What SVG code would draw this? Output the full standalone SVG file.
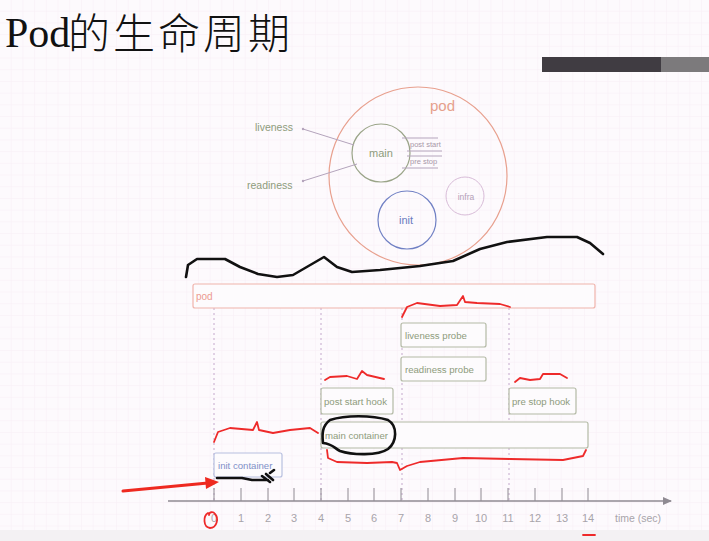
<svg xmlns="http://www.w3.org/2000/svg" width="709" height="541" viewBox="0 0 709 541">
<defs>
<pattern id="grid" width="11.7" height="11.7" patternUnits="userSpaceOnUse">
<path d="M11.7 0V11.7H0" fill="none" stroke="#f8eef6" stroke-width="1"/>
</pattern>
<marker id="axhead" markerWidth="9" markerHeight="8" refX="8" refY="4" orient="auto" markerUnits="userSpaceOnUse">
<path d="M0 0L9 4L0 8z" fill="#8f8a92"/>
</marker>
</defs>
<style>
.t{font-family:"Liberation Sans",Arial,sans-serif;}
.g{fill:#8e9c7c;font-size:10.5px;}
.bl{fill:#8e9c7c;font-size:9.6px;}
.box{fill:#fdfbfd;stroke:#b4baa6;stroke-width:1.2;}
.dot{stroke:#c4a8cc;stroke-width:1;stroke-dasharray:2 3;}
.ink{fill:none;stroke:#111;stroke-width:2.6;stroke-linecap:round;stroke-linejoin:round;}
.red{fill:none;stroke:#ee2a2a;stroke-width:1.8;stroke-linecap:round;stroke-linejoin:round;}
.num{fill:#a8a4aa;font-size:11px;text-anchor:middle;}
</style>
<rect width="709" height="541" fill="#fdfafd"/>
<rect width="709" height="541" fill="url(#grid)"/>
<rect x="0" y="530" width="709" height="11" fill="#f3f1f3"/>

<g id="title">
<text x="5" y="47" font-size="42" fill="#111" font-family="Liberation Serif,serif">Pod</text>
<text x="68" y="49" font-size="42" letter-spacing="3" fill="#111" font-family="Noto Sans CJK SC,sans-serif" font-weight="300">的生命周期</text>
</g>
<g id="progress-bar">
<rect x="542" y="57" width="119" height="15" fill="#403c42"/>
<rect x="661" y="57" width="48" height="15" fill="#7c7a7c"/>
</g>

<g id="pod-circle">
<circle cx="418" cy="176" r="89" fill="none" stroke="#e8a08e" stroke-width="1.2"/>
<text class="t" x="430" y="111" font-size="15" fill="#e6a08c">pod</text>
</g>
<g id="main-circle">
<circle cx="381" cy="153" r="29" fill="none" stroke="#9aa488" stroke-width="1.2"/>
<text class="t" x="381" y="157" font-size="11" fill="#8e9c7c" text-anchor="middle">main</text>
<g stroke="#b4a4bc" stroke-width="1">
<line x1="402" y1="138" x2="438" y2="138"/>
<line x1="407" y1="151" x2="442" y2="151"/>
<line x1="407" y1="156" x2="442" y2="156"/>
<line x1="402" y1="168" x2="438" y2="168"/>
</g>
<text class="t" x="410" y="147" font-size="7.5" fill="#a898a8">post start</text>
<text class="t" x="410" y="164" font-size="7.5" fill="#a898a8">pre stop</text>
</g>
<g id="liveness-label">
<text class="t g" x="255" y="131">liveness</text>
<line x1="303" y1="129" x2="354" y2="145" stroke="#b4a4bc" stroke-width="1"/>
<circle cx="303" cy="129" r="1.2" fill="#b4a4bc"/>
</g>
<g id="readiness-label">
<text class="t g" x="247" y="189">readiness</text>
<line x1="303" y1="181" x2="357" y2="164" stroke="#b4a4bc" stroke-width="1"/>
<circle cx="303" cy="181" r="1.2" fill="#b4a4bc"/>
</g>
<g id="init-circle">
<circle cx="407" cy="220" r="29" fill="none" stroke="#7080c4" stroke-width="1.2"/>
<text class="t" x="406" y="224" font-size="11" fill="#6a7cc0" text-anchor="middle">init</text>
</g>
<g id="infra-circle">
<circle cx="465" cy="196" r="19" fill="none" stroke="#d8bcd8" stroke-width="1"/>
<text class="t" x="466" y="200" font-size="8.5" fill="#b4a0b8" text-anchor="middle">infra</text>
</g>

<g id="guides">
<line class="dot" x1="214" y1="308" x2="214" y2="500"/>
<line class="dot" x1="321" y1="308" x2="321" y2="500"/>
<line class="dot" x1="402" y1="308" x2="402" y2="500"/>
<line class="dot" x1="509" y1="308" x2="509" y2="500"/>
</g>

<g id="pod-bar">
<rect x="193" y="284" width="402" height="24" rx="2" fill="#fdfbfd" stroke="#f0b4ac" stroke-width="1.2"/>
<text class="t" x="196" y="300" font-size="10" fill="#ec9a90">pod</text>
</g>
<g id="liveness-probe">
<rect class="box" x="401" y="323" width="85" height="24" rx="2"/>
<text class="t bl" x="405" y="339">liveness probe</text>
</g>
<g id="readiness-probe">
<rect class="box" x="401" y="357" width="85" height="24" rx="2"/>
<text class="t bl" x="405" y="373">readiness probe</text>
</g>
<g id="post-start-hook">
<rect class="box" x="321" y="388" width="72" height="26" rx="2"/>
<text class="t bl" x="324" y="405">post start hook</text>
</g>
<g id="pre-stop-hook">
<rect class="box" x="509" y="388" width="67" height="26" rx="2"/>
<text class="t bl" x="512" y="405">pre stop hook</text>
</g>
<g id="main-container">
<rect class="box" x="321" y="422" width="267" height="26" rx="2"/>
<text class="t bl" x="325" y="439">main container</text>
</g>
<g id="init-container">
<rect x="214" y="453" width="68" height="24" rx="2" fill="#fdfbfd" stroke="#b8c0e0" stroke-width="1.2"/>
<text class="t" x="218" y="469" font-size="9.6" fill="#8090c8">init container</text>
</g>

<g id="axis">
<line x1="168" y1="501" x2="671" y2="501" stroke="#8f8a92" stroke-width="1.5" marker-end="url(#axhead)"/>
<g stroke="#8f8a92" stroke-width="1">
<line x1="214" y1="488" x2="214" y2="501"/><line x1="241" y1="488" x2="241" y2="501"/>
<line x1="268" y1="488" x2="268" y2="501"/><line x1="294" y1="488" x2="294" y2="501"/>
<line x1="321" y1="488" x2="321" y2="501"/><line x1="348" y1="488" x2="348" y2="501"/>
<line x1="374" y1="488" x2="374" y2="501"/><line x1="401" y1="488" x2="401" y2="501"/>
<line x1="428" y1="488" x2="428" y2="501"/><line x1="455" y1="488" x2="455" y2="501"/>
<line x1="481" y1="488" x2="481" y2="501"/><line x1="508" y1="488" x2="508" y2="501"/>
<line x1="535" y1="488" x2="535" y2="501"/><line x1="562" y1="488" x2="562" y2="501"/>
<line x1="588" y1="488" x2="588" y2="501"/>
</g>
<g class="t num">
<text x="214" y="522">0</text><text x="241" y="522">1</text><text x="268" y="522">2</text>
<text x="294" y="522">3</text><text x="321" y="522">4</text><text x="348" y="522">5</text>
<text x="374" y="522">6</text><text x="401" y="522">7</text><text x="428" y="522">8</text>
<text x="455" y="522">9</text><text x="481" y="522">10</text><text x="508" y="522">11</text>
<text x="535" y="522">12</text><text x="562" y="522">13</text><text x="588" y="522">14</text>
</g>
<text class="t" x="615" y="522" font-size="10.5" fill="#a8a4aa">time (sec)</text>
</g>

<g id="annotations">
<path class="ink" d="M186 277 L188 265 L197 259 L225 259 L240 267 L258 274 L277 277 L293 275 L324 257 L337 267 L352 272 L380 270 L420 266 L453 261 L480 249 L507 242 L547 237 L577 237 L590 243 L603 254"/>
<path class="ink" stroke-width="2.4" d="M330 420 C345 415 372 415 388 420 C398 426 397 442 388 449 C378 456 352 455 340 451 C334 448 333 444 323 443 C322 434 322 426 330 420 Z"/>
<path class="ink" stroke-width="2.2" d="M217 478 L242 478 L252 480 L268 480 M262 476 L270 482 M266 474 L273 480 M270 473 L274 470"/>
<path class="red" d="M402 317 L407 307 L417 303 L440 306 L457 305 L463 296 L465 302 L477 303 L500 304 L510 307"/>
<path class="red" d="M325 380 L330 377 L347 376 L357 379 L362 371 L367 375 L384 379"/>
<path class="red" d="M515 382 L520 378 L530 380 L540 379 L543 374 L560 374 L567 378"/>
<path class="red" d="M214 442 L218 432 L230 428 L253 430 L257 422 L259 430 L273 433 L290 430 L310 428 L318 433"/>
<path class="red" d="M327 450 L328 458 L337 462 L367 463 L392 462 L397 463 L400 470 L407 466 L420 462 L463 458 L510 459 L563 460 L583 456 L586 450"/>
<path class="red" d="M208 513 C203 516 203 527 210 528 C217 528 219 518 215 514 C213 511 209 512 209 515"/>
<path class="red" d="M583 535 L595 535"/>
<line x1="123" y1="491" x2="208" y2="483" stroke="#ee2a20" stroke-width="3" stroke-linecap="round"/>
<path d="M205 477 L219 482 L206 489 Z" fill="#ee2a20"/>
</g>
</svg>
